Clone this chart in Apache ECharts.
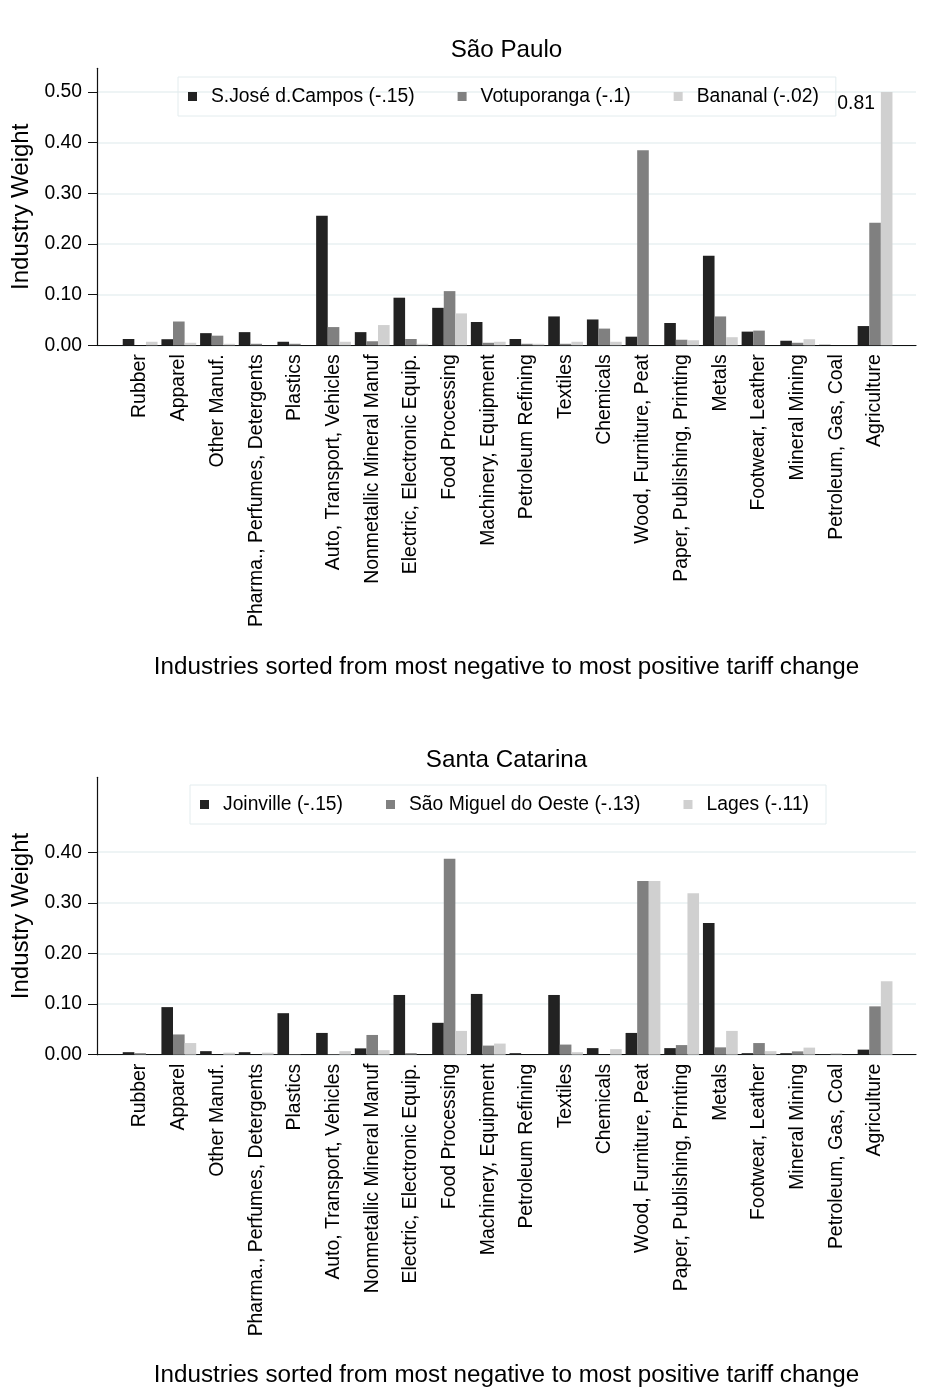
<!DOCTYPE html>
<html>
<head>
<meta charset="utf-8">
<script src="https://cdn.jsdelivr.net/npm/echarts@6/dist/echarts.min.js"></script>
<style>
html,body{margin:0;padding:0;background:#fff;}
#chart{width:933px;height:1388px;}
</style>
</head>
<body>
<div id="chart"></div>
<script>
const categories = ['Rubber','Apparel','Other Manuf.','Pharma., Perfumes, Detergents','Plastics','Auto, Transport, Vehicles','Nonmetallic Mineral Manuf','Electric, Electronic Equip.','Food Processing','Machinery, Equipment','Petroleum Refining','Textiles','Chemicals','Wood, Furniture, Peat','Paper, Publishing, Printing','Metals','Footwear, Leather','Mineral Mining','Petroleum, Gas, Coal','Agriculture'];

// São Paulo
const spNames = ['S.José d.Campos (-.15)','Votuporanga (-.1)','Bananal (-.02)'];
const spSJC = [0.0125,0.012,0.024,0.026,0.007,0.256,0.026,0.094,0.074,0.046,0.0125,0.057,0.051,0.017,0.044,0.177,0.027,0.009,0.001,0.038];
const spVot = [0,0.047,0.019,0.003,0.003,0.036,0.008,0.0125,0.107,0.005,0.003,0.003,0.033,0.385,0.011,0.057,0.029,0.005,0,0.242];
const spBan = [0.007,0.005,0.003,0,0,0.007,0.040,0.003,0.063,0.007,0.003,0.007,0.007,0,0.010,0.016,0,0.012,0,0.81];

// Santa Catarina
const scNames = ['Joinville (-.15)','São Miguel do Oeste (-.13)','Lages (-.11)'];
const scJoi = [0.005,0.094,0.007,0.005,0.082,0.043,0.0125,0.118,0.063,0.120,0.003,0.118,0.013,0.043,0.013,0.260,0.003,0.003,0.001,0.010];
const scSMO = [0.003,0.040,0,0,0.001,0.001,0.039,0.003,0.387,0.018,0,0.020,0,0.343,0.019,0.0145,0.023,0.0066,0.002,0.0955];
const scLag = [0,0.023,0.004,0.004,0,0.007,0.009,0,0.047,0.022,0,0.005,0.011,0.343,0.319,0.047,0.007,0.014,0,0.145];

const topTicks = [0,0.1,0.2,0.3,0.4,0.5];
const botTicks = [0,0.1,0.2,0.3,0.4];
const topCap = 0.5;

const FONT = '"Liberation Sans", Arial, Helvetica, sans-serif';
const colors = ['#222222','#808080','#d0d0d0'];
const TOP_MAX = 0.547, BOT_MAX = 0.548;

const chart = echarts.init(document.getElementById('chart'), null, {renderer:'canvas'});

function axisGridY(idx, max, ticks) {
  return {
    type:'value', gridIndex: idx, min:0, max:max, interval:0.1,
    name:'Industry Weight', nameLocation:'middle', nameGap:62, nameRotate:90,
    nameTextStyle:{fontSize:24, color:'#000', fontFamily:FONT},
    axisLine:{show:true, lineStyle:{color:'#111', width:1.2}},
    axisTick:{show:true, length:9, customValues:ticks, lineStyle:{color:'#111', width:1}},
    axisLabel:{show:true, customValues:ticks, margin:15, fontSize:19.3, color:'#000', fontFamily:FONT,
      formatter:v=>v.toFixed(2)},
    splitLine:{show:true, lineStyle:{color:'#e8f0f2', width:1.5}}
  };
}
function hiddenY(idx, max) {
  return {type:'value', gridIndex:idx, min:0, max:max, show:false, splitLine:{show:false}};
}
function axisGridX(idx) {
  return {type:'value', gridIndex:idx, min:0, max:1,
    axisLine:{show:true, onZero:false, lineStyle:{color:'#111', width:1.2}},
    axisTick:{show:false}, axisLabel:{show:false}, splitLine:{show:false}};
}
function catX(idx) {
  return {type:'category', gridIndex:idx, data:categories,
    axisLine:{show:false}, axisTick:{show:false},
    axisLabel:{interval:0, rotate:90, margin:9, fontSize:19.4, color:'#000', fontFamily:FONT},
    splitLine:{show:false}};
}
function legend(left, top, names) {
  return {left:left, top:top, orient:'horizontal', data:names,
    padding:[10,17,10,10], itemGap:43, itemWidth:9, itemHeight:9, icon:'rect',
    borderColor:'#e3ecee', borderWidth:1, selectedMode:false,
    textStyle:{fontSize:19.3, color:'#000', fontFamily:FONT, padding:[0,0,0,9]}};
}
function bars(name, data, color, axisIdx, cap) {
  return {type:'bar', name:name, xAxisIndex:axisIdx, yAxisIndex:axisIdx,
    barWidth:11.6, barGap:'0%',
    itemStyle:{color:color},
    data:data.map(v => {
      if (cap !== undefined && v > cap) {
        return {value:cap, label:{show:true, position:[-6,2], align:'right', verticalAlign:'top',
          fontSize:19.3, color:'#000', fontFamily:FONT, formatter:v.toFixed(2)}};
      }
      return v;
    })};
}

const titleStyle = {fontSize:24.2, fontWeight:'normal', color:'#000', fontFamily:FONT};
const option = {
  animation:false,
  backgroundColor:'#fff',
  textStyle:{fontFamily:FONT},
  title:[
    {text:'São Paulo', left:506.5, top:38, textAlign:'center', padding:0, textStyle:titleStyle},
    {text:'Industries sorted from most negative to most positive tariff change', left:506.5, top:655, textAlign:'center', padding:0, textStyle:titleStyle},
    {text:'Santa Catarina', left:506.5, top:748, textAlign:'center', padding:0, textStyle:titleStyle},
    {text:'Industries sorted from most negative to most positive tariff change', left:506.5, top:1363, textAlign:'center', padding:0, textStyle:titleStyle}
  ],
  legend:[legend(178, 77, spNames), legend(190, 785, scNames)],
  grid:[
    {left:97, width:819, top:68.3, height:277},
    {left:120.8, width:773.6, top:68.3, height:277},
    {left:97, width:819, top:777.3, height:277.4},
    {left:120.8, width:773.6, top:777.3, height:277.4}
  ],
  xAxis:[axisGridX(0), catX(1), axisGridX(2), catX(3)],
  yAxis:[axisGridY(0, TOP_MAX, topTicks), hiddenY(1, TOP_MAX), axisGridY(2, BOT_MAX, botTicks), hiddenY(3, BOT_MAX)],
  series:[
    bars(spNames[0], spSJC, colors[0], 1),
    bars(spNames[1], spVot, colors[1], 1),
    bars(spNames[2], spBan, colors[2], 1, topCap),
    bars(scNames[0], scJoi, colors[0], 3),
    bars(scNames[1], scSMO, colors[1], 3),
    bars(scNames[2], scLag, colors[2], 3)
  ]
};
chart.setOption(option);
</script>
</body>
</html>
